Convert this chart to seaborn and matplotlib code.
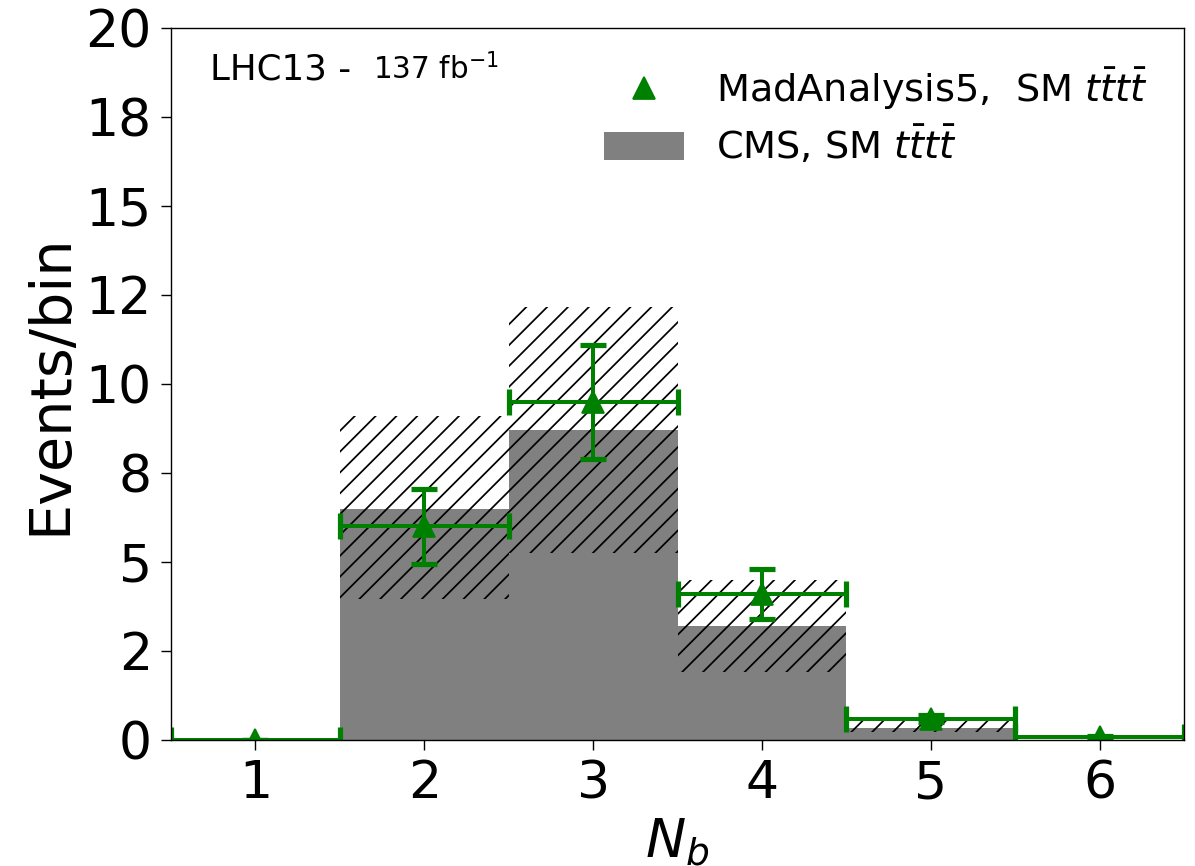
import numpy as np
import seaborn as sns
import matplotlib.pyplot as plt
from matplotlib.patches import Patch
from matplotlib.lines import Line2D
from matplotlib.ticker import StrMethodFormatter

# number of b-jets
nb = [1, 2, 3, 4, 5, 6]

# CMS SM tttt prediction and its uncertainty band
cms = [0.0, 6.5, 8.7, 3.2, 0.35, 0.0]
cms_up = [0.0, 9.1, 12.15, 4.5, 0.56, 0.0]
cms_dn = [0.0, 3.95, 5.25, 1.92, 0.23, 0.0]

# MadAnalysis5 recast
ma5 = [0.0, 6.0, 9.5, 4.1, 0.6, 0.08]
ma5_err = [0.0, 1.05, 1.6, 0.7, 0.1, 0.03]

plt.rcParams['font.family'] = ['DejaVu Sans']

fig = plt.figure(figsize=(9.56, 6.928), dpi=125)
ax = fig.add_axes([0.1431, 0.1455, 0.8477, 0.8222])

# central CMS histogram
sns.histplot(x=nb, weights=cms, discrete=True, color='gray', alpha=1,
             linewidth=0, ax=ax)

# hatched uncertainty band
band = np.array(cms_up) - np.array(cms_dn)
ax.bar(nb, band, bottom=cms_dn, width=1.0, fill=False, hatch='//',
       edgecolor='black', linewidth=0)

# MA5 points
ax.errorbar(nb, ma5, xerr=0.5, yerr=ma5_err, fmt='^', color='green',
            markersize=12.5, elinewidth=2.3, capsize=7.5, capthick=3)

ax.set_xlim(0.5, 6.5)
ax.set_ylim(0, 20)
ax.set_xticks(nb)
ax.set_yticks(np.arange(0, 20.1, 2.5))
ax.yaxis.set_major_formatter(StrMethodFormatter('{x:.0f}'))
ax.tick_params(labelsize=30, length=5.5, pad=5.5)
ax.set_xlabel('$N_b$', fontsize=31)
ax.set_ylabel('Events/bin', fontsize=33)

ax.text(0.0385, 0.928, 'LHC13 - ', fontsize=20.5, transform=ax.transAxes,
        va='baseline')
ax.text(0.199, 0.928, '137 fb$^{-1}$', fontsize=17, transform=ax.transAxes,
        va='baseline')

handles = [
    Line2D([], [], marker='^', color='green', linestyle='none', markersize=12.5),
    Patch(facecolor='gray'),
]
labels = [r'MadAnalysis5,  SM $t\bar{t}t\bar{t}$', r'CMS, SM $t\bar{t}t\bar{t}$']
ax.legend(handles, labels, loc='upper left', bbox_to_anchor=(0.3935, 0.996),
          frameon=False, fontsize=22, labelspacing=0.34, handlelength=2.1,
          handleheight=0.75, handletextpad=0.82)

fig.savefig('out.png', dpi=125)
